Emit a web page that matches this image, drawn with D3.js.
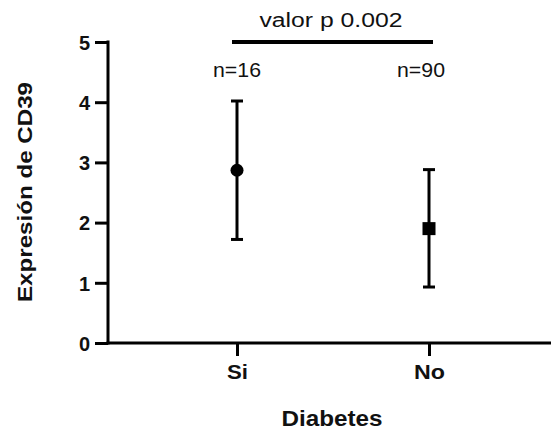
<!DOCTYPE html>
<html><head><meta charset="utf-8">
<script src="https://cdn.jsdelivr.net/npm/d3@7"></script>
<style>body{margin:0;background:#fff}svg text{font-family:"Liberation Sans",Arial,sans-serif}</style>
</head><body><svg id="c" width="551" height="436"></svg>
<script>
const categories = ["Si","No"];
const means = [2.87, 1.90];
const upper = [4.02, 2.88];
const lower = [1.72, 0.93];
const nLabels = ["n=16","n=90"];
const yTicks = [0,1,2,3,4,5];
const pLabel = "valor p 0.002";

const svg = d3.select("#c");
const L = 108, R = 551, T = 42, B = 343;
const x = d3.scalePoint().domain(categories).range([237, 429]);
const y = d3.scaleLinear().domain([0,5]).range([B, T]);

const gy = svg.append("g").attr("transform",`translate(${L},0)`)
  .call(d3.axisLeft(y).tickValues(yTicks).tickSize(13).tickPadding(5).tickFormat(d3.format("d")));
gy.select(".domain").attr("stroke-width",3).attr("d",`M0,${B+1.5}V${T-1.5}`);
gy.selectAll(".tick line").attr("stroke-width",3);
gy.selectAll(".tick text").attr("font-size",20).attr("font-weight","bold").attr("font-family","Liberation Sans, Arial, sans-serif").attr("fill","#111").attr("dy","0.36em");

const gx = svg.append("g").attr("transform",`translate(0,${B})`)
  .call(d3.axisBottom(x).tickValues(categories).tickSize(13).tickPadding(6));
gx.select(".domain").attr("stroke-width",3).attr("d",`M${L-1.5},0H${R}`);
gx.selectAll(".tick line").attr("stroke-width",3);
gx.selectAll(".tick text").attr("font-size",20).attr("font-weight","bold").attr("font-family","Liberation Sans, Arial, sans-serif").attr("fill","#111")
  .attr("dy",null).attr("y",36).attr("textLength",(d,i)=>[21,31][i]).attr("lengthAdjust","spacingAndGlyphs");

// error bars
const g = svg.append("g");
categories.forEach((c,i)=>{
  const cx = x(c);
  g.append("line").attr("x1",cx).attr("x2",cx).attr("y1",y(upper[i])).attr("y2",y(lower[i])).attr("stroke","#000").attr("stroke-width",3);
  [upper[i],lower[i]].forEach(v=>g.append("line").attr("x1",cx-6).attr("x2",cx+6).attr("y1",y(v)).attr("y2",y(v)).attr("stroke","#000").attr("stroke-width",3));
});
g.append("circle").attr("cx",x("Si")).attr("cy",y(means[0])).attr("r",6.5).attr("fill","#000");
g.append("rect").attr("x",x("No")-6.5).attr("y",y(means[1])-6.5).attr("width",13).attr("height",13).attr("fill","#000");

// n labels
categories.forEach((c,i)=>{
  svg.append("text").attr("x",x(c)-(i===1?8:0)).attr("y",77).attr("text-anchor","middle").attr("font-size",19.5).attr("fill","#111")
    .attr("textLength",48).attr("lengthAdjust","spacingAndGlyphs").text(nLabels[i]);
});

// significance line
svg.append("line").attr("x1",x("Si")-5).attr("x2",x("No")+4).attr("y1",y(5)).attr("y2",y(5)).attr("stroke","#000").attr("stroke-width",4);
svg.append("text").attr("x",(x("Si")+x("No"))/2-2).attr("y",27).attr("text-anchor","middle").attr("font-size",20).attr("fill","#111")
  .attr("textLength",143).attr("lengthAdjust","spacingAndGlyphs").text(pLabel);

// axis titles
svg.append("text").attr("transform",`translate(32,192) rotate(-90)`).attr("text-anchor","middle").attr("font-size",20).attr("font-weight","bold").attr("fill","#111")
  .attr("textLength",220).attr("lengthAdjust","spacingAndGlyphs").text("Expresión de CD39");
svg.append("text").attr("x",332).attr("y",426).attr("text-anchor","middle").attr("font-size",22).attr("font-weight","bold").attr("fill","#111")
  .attr("textLength",101).attr("lengthAdjust","spacingAndGlyphs").text("Diabetes");
</script></body></html>
